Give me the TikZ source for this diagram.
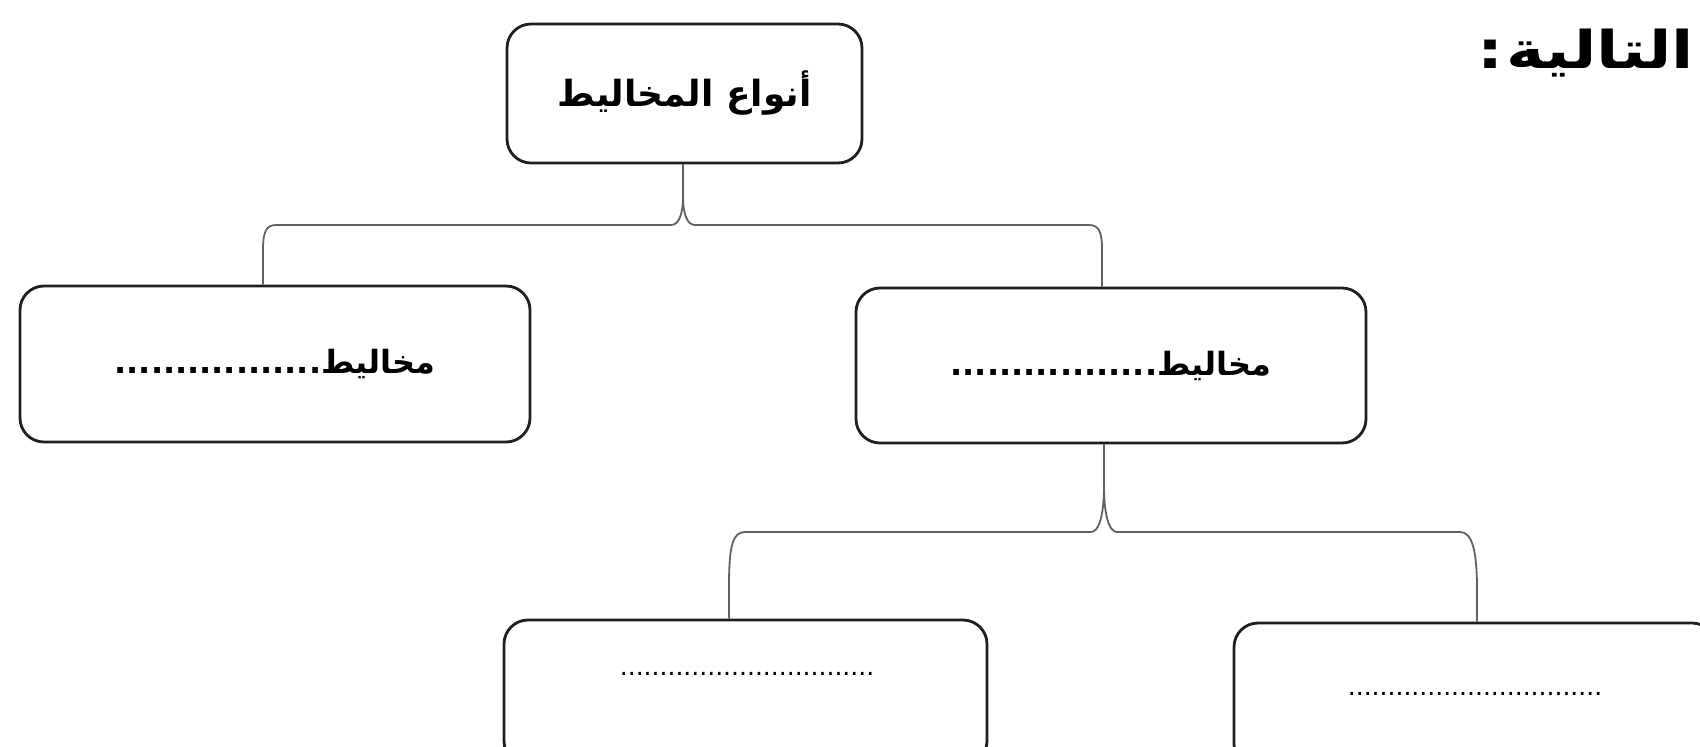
\documentclass[tikz,border=0pt]{standalone}
\usepackage{fontspec}
\newfontfamily\arabicfont[Script=Arabic]{DejaVu Sans}
\newfontfamily\arabicwide[Script=Arabic,FakeStretch=1.25]{DejaVu Sans}
\newfontfamily\dotfont{DejaVu Sans}
\TeXXeTstate=1
\begin{document}
\begin{tikzpicture}[x=0.5pt,y=-0.5pt,
  box/.style={draw=black!88, line width=1.4pt, rounded corners=12pt, inner sep=0pt, fill=white},
  conn/.style={draw=black!62, line width=0.9pt},
  lbl/.style={inner sep=0pt, text=black},
  titlefont/.style={font=\arabicwide\bfseries\fontsize{26}{30}\selectfont}]
\useasboundingbox (0,0) rectangle (1700,746);
% boxes
\node[box, minimum width=177.5pt, minimum height=69.5pt,
  font=\arabicfont\bfseries\fontsize{18}{22}\selectfont] (top) at (684.5,93.5) {\beginR أنواع المخاليط\endR};
\node[box, minimum width=255pt, minimum height=78pt,
  font=\arabicfont\bfseries\fontsize{16}{20}\selectfont] (L) at (275,364) {\beginR مخاليط.................\endR};
\node[box, minimum width=255pt, minimum height=77.5pt,
  font=\arabicfont\bfseries\fontsize{16}{20}\selectfont] (M) at (1111,365.5) {\beginR مخاليط.................\endR};
\node[box, minimum width=241.5pt, minimum height=72.5pt] (BL) at (745.5,692.5) {};
\node[box, minimum width=241pt, minimum height=72.5pt] (BR) at (1475,695.5) {};
\node[lbl, font=\dotfont\fontsize{12.5}{14}\selectfont] (tBL) at (747,674) {................................};
\node[lbl, font=\dotfont\fontsize{12.5}{14}\selectfont] (tBR) at (1475,694) {................................};
% title (its first word is cut by the right edge)
\node[lbl, anchor=base west, titlefont] (title) at (1477,68) {\beginR التالية\hspace{1.5pt}:\endR};
\node[lbl, anchor=base west, titlefont] (titlecut) at (1696,68) {\beginR ت\endR};
% x positions of connector ends
\coordinate (xs) at (683,0);
\coordinate (xl) at (263,0);
\coordinate (xm) at (1102,0);
\coordinate (xs2) at (1104,0);
\coordinate (xbl) at (729,0);
\coordinate (xbr) at (1477,0);
% upper brace
\draw[conn] (L.north -| xl) -- (263,250) .. controls (263,232) and (266,225) .. (276,225)
  -- (671,225) .. controls (679,225) and (683,214) .. (683,196) -- (top.south -| xs);
\draw[conn] (top.south -| xs) -- (683,196) .. controls (683,214) and (687,225) .. (695,225)
  -- (1089,225) .. controls (1099,225) and (1102,232) .. (1102,250) -- (M.north -| xm);
% lower brace
\draw[conn] (BL.north -| xbl) -- (729,585) .. controls (729,545) and (733,532) .. (745,532)
  -- (1091,532) .. controls (1099,532) and (1104,515) .. (1104,486) -- (M.south -| xs2);
\draw[conn] (M.south -| xs2) -- (1104,486) .. controls (1104,515) and (1109,532) .. (1117,532)
  -- (1460,532) .. controls (1472,532) and (1477,550) .. (1477,590) -- (BR.north -| xbr);
\end{tikzpicture}
\end{document}
